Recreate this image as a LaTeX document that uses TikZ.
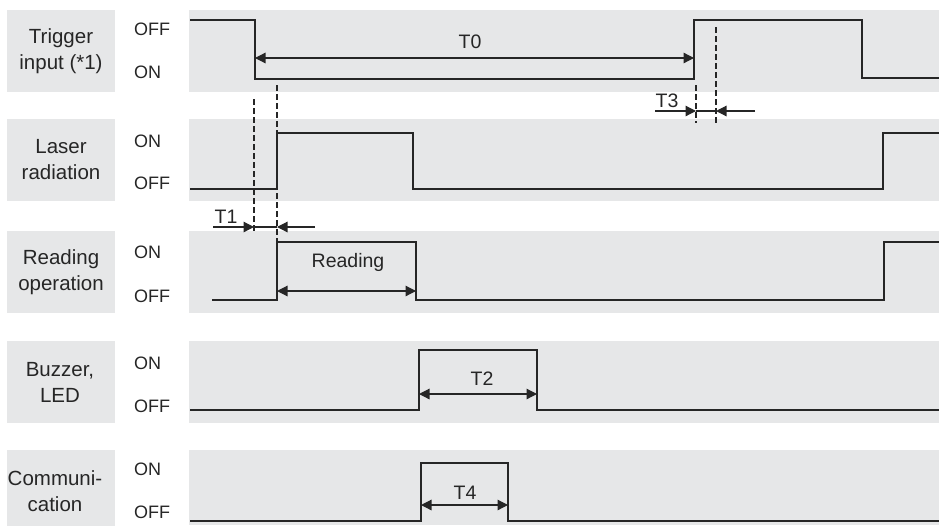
\documentclass[tikz,border=0pt]{standalone}
\usepackage{fontspec}
\setmainfont{Liberation Sans}
\usetikzlibrary{arrows.meta}
\definecolor{bandgrey}{HTML}{E6E7E8}
\definecolor{ink}{HTML}{262626}
\tikzset{
  band/.style={fill=bandgrey},
  sig/.style={draw=ink, line width=1.6pt, line join=miter},
  guide/.style={draw=ink, line width=1.1pt, dash pattern=on 5.5pt off 3.5pt},
  dimarrow/.style={draw=ink, line width=1.2pt, {Triangle[length=10.5pt,width=10.5pt]}-{Triangle[length=10.5pt,width=10.5pt]}},
  halfarrow/.style={draw=ink, line width=1.2pt, -{Triangle[length=10.5pt,width=10.5pt]}},
  rowlabel/.style={align=center, inner sep=0pt, text=ink, font=\fontsize{20.5}{26}\selectfont},
  level/.style={anchor=base west, inner sep=0pt, text=ink, font=\fontsize{18}{20}\selectfont},
  tlabel/.style={anchor=base, inner sep=0pt, text=ink, font=\fontsize{19.5}{22}\selectfont}
}
\begin{document}
\begin{tikzpicture}[x=1pt,y=-1pt]
\useasboundingbox (0,0) rectangle (939,525);
% bands
\foreach \t in {10,119,231,341,450}{
  \fill[band] (7,\t) rectangle (115,\t+82);
  \fill[band] (189,\t) rectangle (939,{min(\t+82,525)});
}
% row labels
\node[rowlabel] (l1) at (61,51) {Trigger\\input (*1)};
\node[rowlabel] (l2) at (61,160) {Laser\\radiation};
\node[rowlabel] (l3) at (61,272) {Reading\\operation};
\node[rowlabel] (l4) at (60,382) {Buzzer,\\LED};
\node[rowlabel] (l5) at (55,491) {Communi-\\cation};
% levels
\node[level] (r1a) at (134,35) {OFF};
\node[level] (r1b) at (134,78) {ON};
\node[level] (r2a) at (134,147) {ON};
\node[level] (r2b) at (134,189) {OFF};
\node[level] (r3a) at (134,258) {ON};
\node[level] (r3b) at (134,302) {OFF};
\node[level] (r4a) at (134,369) {ON};
\node[level] (r4b) at (134,412) {OFF};
\node[level] (r5a) at (134,475) {ON};
\node[level] (r5b) at (134,518) {OFF};
% guides
\coordinate (g1t) at (254,99);  \coordinate (g1b) at (254,233);
\coordinate (g2t) at (277,85);  \coordinate (g2b) at (277,241);
\coordinate (g3t) at (696,85);  \coordinate (g3b) at (696,123);
\coordinate (g4t) at (716,27);  \coordinate (g4b) at (716,123);
\draw[guide] (g1t) -- (g1b);
\draw[guide] (g2t) -- (g2b);
\draw[guide] (g3t) -- (g3b);
\draw[guide] (g4t) -- (g4b);
% signals
\draw[sig] (190,20) -- (255,20) -- (255,79) -- (694,79) -- (694,20) -- (862,20) -- (862,78) -- (939,78);
\draw[sig] (190,189) -- (277,189) -- (277,133) -- (413,133) -- (413,189) -- (883,189) -- (883,133) -- (939,133);
\draw[sig] (212,300) -- (277,300) -- (277,242) -- (416,242) -- (416,300) -- (884,300) -- (884,242) -- (939,242);
\draw[sig] (190,410) -- (419,410) -- (419,350) -- (537,350) -- (537,410) -- (939,410);
\draw[sig] (190,521) -- (421,521) -- (421,463) -- (508,463) -- (508,521) -- (939,521);
% dimension arrows
\coordinate (t0a) at (255,58); \coordinate (t0b) at (694,58);
\draw[dimarrow] (t0a) -- (t0b);
\node[tlabel] (t0) at (470,48) {T0};
\coordinate (rda) at (277,291); \coordinate (rdb) at (416,291);
\draw[dimarrow] (rda) -- (rdb);
\node[tlabel] (rd) at (348,267) {Reading};
\coordinate (t2a) at (419,394); \coordinate (t2b) at (537,394);
\draw[dimarrow] (t2a) -- (t2b);
\node[tlabel] (t2) at (482,385) {T2};
\coordinate (t4a) at (421,505); \coordinate (t4b) at (508,505);
\draw[dimarrow] (t4a) -- (t4b);
\node[tlabel] (t4) at (465,499) {T4};
% T1
\coordinate (t1l) at (213,227); \coordinate (t1a) at (254,227);
\coordinate (t1b) at (277,227); \coordinate (t1r) at (315,227);
\draw[halfarrow] (t1l) -- (t1a);
\draw[halfarrow] (t1r) -- (t1b);
\draw[draw=ink, line width=1.2pt] (t1a) -- (t1b);
\node[tlabel] (t1) at (226,223) {T1};
% T3
\coordinate (t3l) at (655,111); \coordinate (t3a) at (696,111);
\coordinate (t3b) at (716,111); \coordinate (t3r) at (755,111);
\draw[halfarrow] (t3l) -- (t3a);
\draw[halfarrow] (t3r) -- (t3b);
\draw[draw=ink, line width=1.2pt] (t3a) -- (t3b);
\node[tlabel] (t3) at (667,107) {T3};
\end{tikzpicture}
\end{document}
